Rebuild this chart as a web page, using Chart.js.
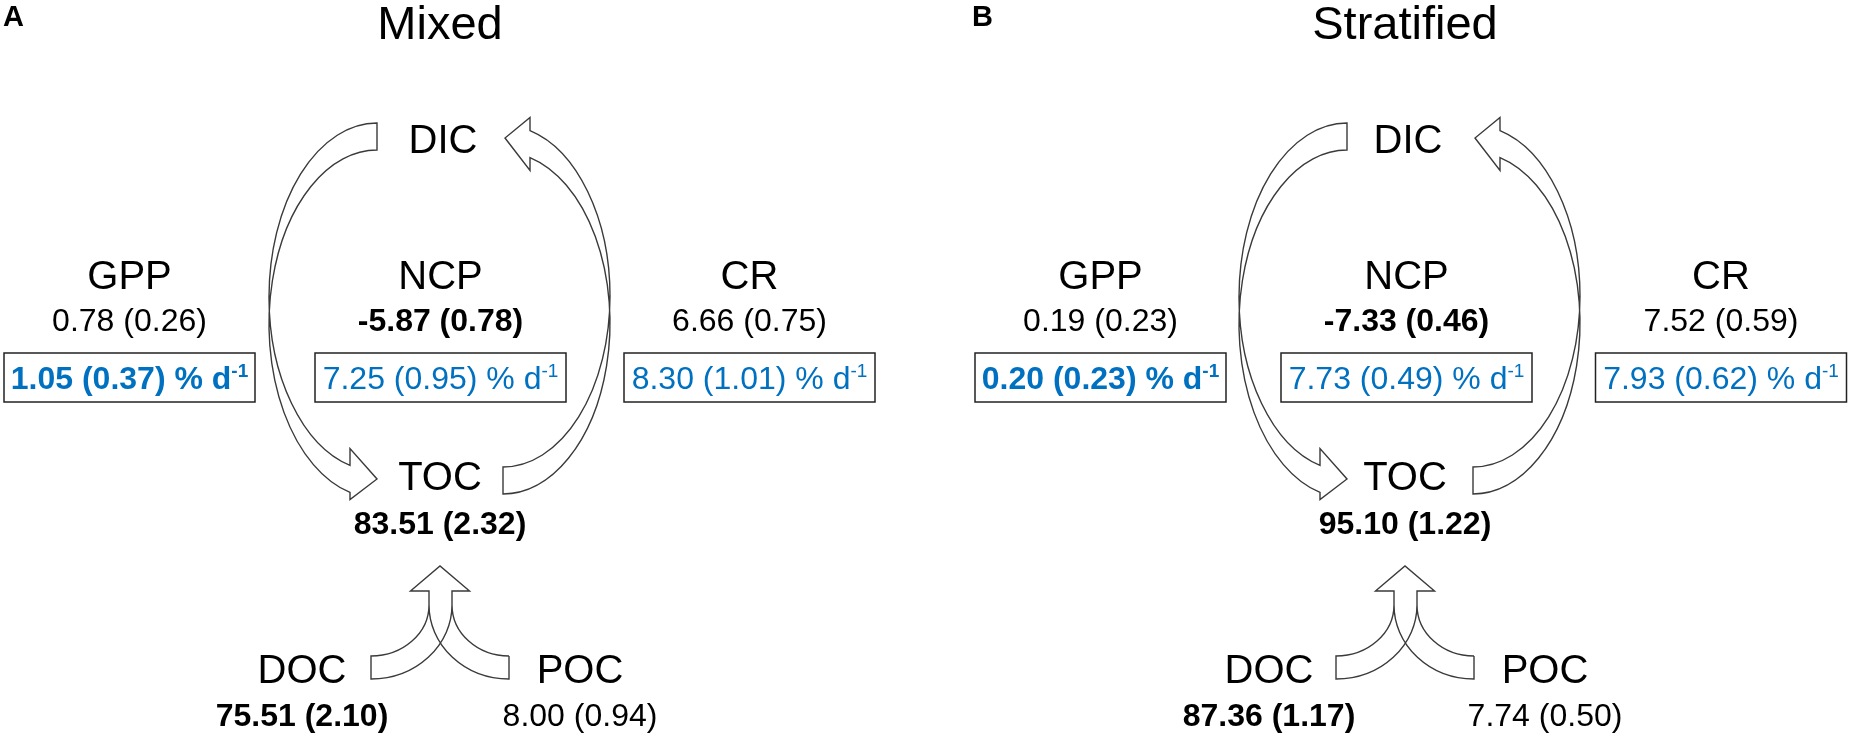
<!DOCTYPE html>
<html lang="en">
<head>
  <meta charset="UTF-8">
  <title>Carbon pools and fluxes: Mixed vs Stratified</title>
  <script src="https://cdn.jsdelivr.net/npm/chart.js"></script>
  <style>
    html, body { margin: 0; padding: 0; background: #fff; overflow: hidden; }
    #wrap { width: 1850px; height: 736px; position: relative; }
  </style>
</head>
<body>
  <div id="wrap"><canvas id="chart"></canvas></div>
  <script>
    // panels and node names
    const panels = ['Mixed', 'Stratified'];
    const panelTags = ['A', 'B'];
    const nodes = ['DIC', 'GPP', 'NCP', 'CR', 'TOC', 'DOC', 'POC'];

    // mean and (sd) per node, DIC has no value
    const mixedMean = [null, 0.78, -5.87, 6.66, 83.51, 75.51, 8.00];
    const mixedSd   = [null, 0.26, 0.78, 0.75, 2.32, 2.10, 0.94];
    const stratMean = [null, 0.19, -7.33, 7.52, 95.10, 87.36, 7.74];
    const stratSd   = [null, 0.23, 0.46, 0.59, 1.22, 1.17, 0.50];

    // rates in % d-1
    const rateNodes   = ['GPP', 'NCP', 'CR'];
    const mixedRate   = [1.05, 7.25, 8.30];
    const mixedRateSd = [0.37, 0.95, 1.01];
    const stratRate   = [0.20, 7.73, 7.93];
    const stratRateSd = [0.23, 0.49, 0.62];

    const boldNodes = ['NCP', 'TOC', 'DOC'];
    const boldRates = ['GPP'];

    // ---- layout (page units, y down) ----
    const FAM = '"Liberation Sans", Arial, sans-serif';
    const BLUE = '#0070C0';
    const nodeX = [
      [443, 129.5, 440.5, 749.5, 440, 302, 580],
      [1408, 1100.5, 1406.5, 1721, 1405, 1269, 1545]
    ];
    const labelY = [153, 289, 289, 289, 490, 683, 683];
    const valueY = [null, 331, 331, 331, 534, 726, 726];
    const titleX = [440, 1405];
    const tagX = [3, 972];
    const ringShift = [0, 970];
    const mergeShift = [0, 965];
    const box = { top: 353, bottom: 402, width: 251, baseline: 389 };

    const means = [mixedMean, stratMean];
    const sds = [mixedSd, stratSd];
    const rates = [mixedRate, stratRate];
    const rateSds = [mixedRateSd, stratRateSd];

    const fmt = (m, s) => m.toFixed(2) + ' (' + s.toFixed(2) + ')';

    const diagram = {
      id: 'diagram',
      afterDatasetsDraw(chart) {
        const ctx = chart.ctx;
        const xs = chart.scales.x, ys = chart.scales.y;
        const X = v => xs.getPixelForValue(v);
        const Y = v => ys.getPixelForValue(v);
        const RX = r => X(r) - X(0);
        const RY = r => Y(r) - Y(0);

        ctx.save();
        ctx.textBaseline = 'alphabetic';

        panels.forEach((name, p) => {
          // tag and title
          ctx.fillStyle = '#000';
          ctx.textAlign = 'left';
          ctx.font = 'bold 29px ' + FAM;
          ctx.fillText(panelTags[p], X(tagX[p]), Y(26));
          ctx.textAlign = 'center';
          ctx.font = '47px ' + FAM;
          ctx.fillText(name, X(titleX[p]), Y(39));

          // node labels from dataset points
          const meta = chart.getDatasetMeta(p);
          meta.data.forEach((pt, i) => {
            ctx.textAlign = 'center';
            ctx.fillStyle = '#000';
            ctx.font = '40px ' + FAM;
            ctx.fillText(nodes[i], pt.x, pt.y);
            if (means[p][i] !== null) {
              const b = boldNodes.includes(nodes[i]) ? 'bold ' : '';
              ctx.font = b + '32px ' + FAM;
              ctx.fillText(fmt(means[p][i], sds[p][i]), pt.x, Y(valueY[i]));
            }
          });

          // rate boxes
          rateNodes.forEach((rn, k) => {
            const cx = nodeX[p][nodes.indexOf(rn)];
            ctx.strokeStyle = '#222';
            ctx.lineWidth = 1.5;
            ctx.strokeRect(X(cx - box.width / 2), Y(box.top), RX(box.width), RY(box.bottom - box.top));
            const b = boldRates.includes(rn) ? 'bold ' : '';
            const main = fmt(rates[p][k], rateSds[p][k]) + ' % d';
            ctx.font = b + '32px ' + FAM;
            const w1 = ctx.measureText(main).width;
            ctx.font = b + '19px ' + FAM;
            const w2 = ctx.measureText('-1').width;
            const x0 = X(cx) - (w1 + w2) / 2;
            ctx.fillStyle = BLUE;
            ctx.textAlign = 'left';
            ctx.font = b + '32px ' + FAM;
            ctx.fillText(main, x0, Y(box.baseline));
            ctx.font = b + '19px ' + FAM;
            ctx.fillText('-1', x0 + w1, Y(box.baseline - 12));
          });

          ctx.strokeStyle = '#3a3a3a';
          ctx.lineWidth = 1.4;
          ctx.lineJoin = 'miter';

          // GPP arrow: DIC -> TOC along left side
          let o = ringShift[p];
          let rx = 108, ry = 174, t = 27;
          let cyA = 123 + ry, cyB = cyA + t;
          let th = Math.acos((350 - 377) / rx);
          let yA = cyA + ry * Math.sin(th), yB = cyB + ry * Math.sin(th);
          ctx.beginPath();
          ctx.moveTo(X(377 + o), Y(123));
          ctx.ellipse(X(377 + o), Y(cyA), RX(rx), RY(ry), 0, -Math.PI / 2, th, true);
          ctx.lineTo(X(350 + o), Y(yA - 17));
          ctx.lineTo(X(377 + o), Y((yA + yB) / 2));
          ctx.lineTo(X(350 + o), Y(yB + 7));
          ctx.lineTo(X(350 + o), Y(yB));
          ctx.ellipse(X(377 + o), Y(cyB), RX(rx), RY(ry), 0, th, -Math.PI / 2, false);
          ctx.closePath();
          ctx.stroke();

          // CR arrow: TOC -> DIC along right side
          rx = 107; ry = 171;
          const cyC = 467 - ry, cyD = cyC + t;
          th = -Math.acos((530 - 503) / rx);
          const yC = cyC + ry * Math.sin(th), yD = cyD + ry * Math.sin(th);
          ctx.beginPath();
          ctx.moveTo(X(503 + o), Y(467));
          ctx.ellipse(X(503 + o), Y(cyC), RX(rx), RY(ry), 0, Math.PI / 2, th, true);
          ctx.lineTo(X(530 + o), Y(yC - 13));
          ctx.lineTo(X(505 + o), Y((yC + yD) / 2 - 6));
          ctx.lineTo(X(530 + o), Y(yD + 13));
          ctx.lineTo(X(530 + o), Y(yD));
          ctx.ellipse(X(503 + o), Y(cyD), RX(rx), RY(ry), 0, th, Math.PI / 2, false);
          ctx.closePath();
          ctx.stroke();

          // DOC + POC -> TOC merge arrow
          o = mergeShift[p];
          const y0 = 605, sL = 429, sR = 452, fL = 371, fR = 509;
          ctx.beginPath();
          ctx.moveTo(X(fL + o), Y(656));
          ctx.ellipse(X(fL + o), Y(y0), RX(sL - fL), RY(656 - y0), 0, Math.PI / 2, 0, true);
          ctx.lineTo(X(sL + o), Y(591));
          ctx.lineTo(X(410.5 + o), Y(591));
          ctx.lineTo(X(440 + o), Y(566));
          ctx.lineTo(X(469.5 + o), Y(591));
          ctx.lineTo(X(sR + o), Y(591));
          ctx.lineTo(X(sR + o), Y(y0));
          ctx.ellipse(X(fL + o), Y(y0), RX(sR - fL), RY(679 - y0), 0, 0, Math.PI / 2, false);
          ctx.closePath();
          ctx.moveTo(X(fR + o), Y(656));
          ctx.ellipse(X(fR + o), Y(y0), RX(fR - sR), RY(656 - y0), 0, Math.PI / 2, Math.PI, false);
          ctx.moveTo(X(sL + o), Y(y0));
          ctx.ellipse(X(fR + o), Y(y0), RX(fR - sL), RY(679 - y0), 0, Math.PI, Math.PI / 2, true);
          ctx.lineTo(X(fR + o), Y(656));
          ctx.stroke();
        });
        ctx.restore();
      }
    };

    const ctx = document.getElementById('chart').getContext('2d');
    new Chart(ctx, {
      type: 'scatter',
      data: {
        datasets: panels.map((name, p) => ({
          label: name,
          data: nodes.map((n, i) => ({ x: nodeX[p][i], y: labelY[i] })),
          pointRadius: 0,
          pointHoverRadius: 0
        }))
      },
      options: {
        responsive: true,
        maintainAspectRatio: false,
        animation: false,
        events: [],
        layout: { padding: 0 },
        plugins: { legend: { display: false }, tooltip: { enabled: false } },
        scales: {
          x: { type: 'linear', min: 0, max: 1850, display: false },
          y: { type: 'linear', min: 0, max: 736, reverse: true, display: false }
        }
      },
      plugins: [diagram]
    });
  </script>
</body>
</html>
